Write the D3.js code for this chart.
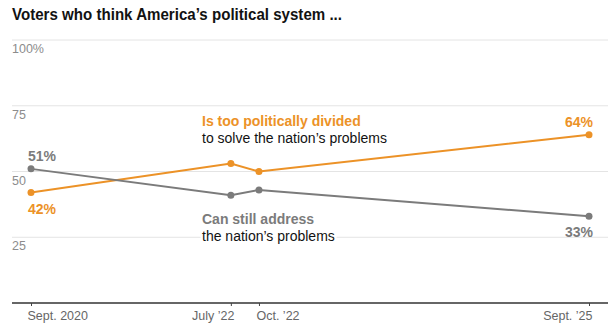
<!DOCTYPE html>
<html>
<head>
<meta charset="utf-8">
<script src="https://cdn.jsdelivr.net/npm/d3@7"></script>
<style>
  body { margin: 0; background: #fff; }
  text { font-family: "Liberation Sans", Arial, sans-serif; }
</style>
</head>
<body>
<div id="chart"></div>
<script>
// Data
var surveyDates = ["2020-09-15", "2022-07-01", "2022-10-01", "2025-09-15"];
var dividedValues = [42, 53, 50, 64];
var canAddressValues = [51, 41, 43, 33];
var xTickDates = ["2020-09-15", "2022-07-01", "2022-10-01", "2025-09-15"];
var xTickLabels = ["Sept. 2020", "July \u201922", "Oct. \u201922", "Sept. \u201925"];
var yTicks = [25, 50, 75, 100];

var svgWidth = 616;
var svgHeight = 332;

var orange = "#ec9227";
var gray = "#7b7b7b";

var parseDate = d3.timeParse("%Y-%m-%d");

var svg = d3.select("#chart")
  .append("svg")
  .attr("width", svgWidth)
  .attr("height", svgHeight);

var x = d3.scaleTime()
  .domain([parseDate(surveyDates[0]), parseDate(surveyDates[3])])
  .range([31, 589]);

var y = d3.scaleLinear()
  .domain([0, 100])
  .range([303, 40]);

// title
svg.append("text")
  .attr("x", 12)
  .attr("y", 20)
  .attr("font-size", 16.5)
  .attr("font-weight", "bold")
  .attr("fill", "#121212")
  .attr("textLength", 330)
  .attr("lengthAdjust", "spacingAndGlyphs")
  .text("Voters who think America\u2019s political system ...");

// gridlines
svg.selectAll(".grid")
  .data(yTicks)
  .enter()
  .append("line")
  .attr("x1", 12)
  .attr("x2", 608)
  .attr("y1", d => y(d))
  .attr("y2", d => y(d))
  .attr("stroke", "#e4e4e4")
  .attr("stroke-width", 1);

svg.selectAll(".ylab")
  .data(yTicks)
  .enter()
  .append("text")
  .attr("x", 12)
  .attr("y", d => y(d) + 13)
  .attr("font-size", 12.5)
  .attr("fill", "#8c8c8c")
  .text(d => d === 100 ? "100%" : d);

// x axis
var xAxis = d3.axisBottom(x)
  .tickValues(xTickDates.map(parseDate))
  .tickSize(3)
  .tickFormat((d, i) => xTickLabels[i]);

var axisG = svg.append("g")
  .attr("transform", "translate(0," + y(0) + ")")
  .call(xAxis);
axisG.select(".domain").remove();
axisG.selectAll(".tick line").attr("stroke", "#444");
// label placement relative to each tick
var tickAnchor = ["start", "end", "start", "end"];
var tickShift = [-4, 3, -3, 3];
axisG.selectAll(".tick text")
  .attr("font-family", "Liberation Sans, Arial, sans-serif")
  .attr("font-size", 12.5)
  .attr("fill", "#666")
  .attr("y", 17)
  .attr("dy", 0)
  .attr("text-anchor", (d, i) => tickAnchor[i])
  .attr("x", (d, i) => tickShift[i]);
axisG.insert("line", ":first-child")
  .attr("x1", 12)
  .attr("x2", 608)
  .attr("y1", 0)
  .attr("y2", 0)
  .attr("stroke", "#333")
  .attr("stroke-width", 1.3);

// annotations, with white halo to break gridlines
var annot = svg.append("g");
function addLabel(lines, yPos, color) {
  lines.forEach(function(l, i) {
    annot.append("text")
      .attr("x", 202)
      .attr("y", yPos + i * 17)
      .attr("font-size", 14)
      .attr("font-weight", i === 0 ? "bold" : "normal")
      .attr("fill", i === 0 ? color : "#121212")
      .attr("stroke", "#fff")
      .attr("stroke-width", 5)
      .attr("paint-order", "stroke")
      .text(l);
  });
}
addLabel(["Is too politically divided", "to solve the nation\u2019s problems"], 126, orange);
addLabel(["Can still address", "the nation\u2019s problems"], 224, gray);

// lines
var series = [
  { values: dividedValues, color: orange, first: "below", last: "above" },
  { values: canAddressValues, color: gray, first: "above", last: "below" }
];

var line = d3.line()
  .x((d, i) => x(parseDate(surveyDates[i])))
  .y(d => y(d));

series.forEach(function(s) {
  svg.append("path")
    .datum(s.values)
    .attr("d", line)
    .attr("fill", "none")
    .attr("stroke", s.color)
    .attr("stroke-width", 2);

  svg.selectAll(null)
    .data(s.values)
    .enter()
    .append("circle")
    .attr("cx", (d, i) => x(parseDate(surveyDates[i])))
    .attr("cy", d => y(d))
    .attr("r", 3.5)
    .attr("fill", s.color);

  var n = s.values.length - 1;
  svg.append("text")
    .attr("x", x(parseDate(surveyDates[0])) - 3)
    .attr("y", y(s.values[0]) + (s.first === "above" ? -8 : 21))
    .attr("font-size", 14)
    .attr("font-weight", "bold")
    .attr("fill", s.color)
    .text(s.values[0] + "%");

  svg.append("text")
    .attr("x", x(parseDate(surveyDates[n])) + 4)
    .attr("y", y(s.values[n]) + (s.last === "above" ? -8 : 21))
    .attr("text-anchor", "end")
    .attr("font-size", 14)
    .attr("font-weight", "bold")
    .attr("fill", s.color)
    .text(s.values[n] + "%");
});
</script>
</body>
</html>
